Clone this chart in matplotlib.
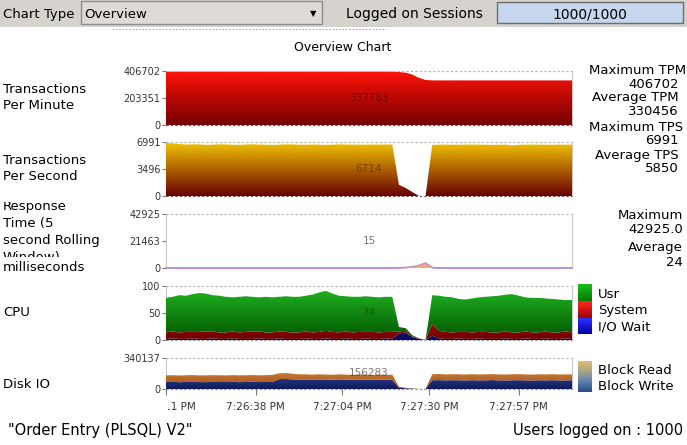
import numpy as np
import matplotlib
matplotlib.use("Agg")
import matplotlib.pyplot as plt
from matplotlib.colors import LinearSegmentedColormap
from matplotlib.patches import Rectangle
from matplotlib.path import Path
from matplotlib.transforms import Bbox
from matplotlib.lines import Line2D

# sample times, seconds after 7:26:11 PM (one sample every 2 s)
secs = list(range(0, 123, 2))

tpm = [401800, 401900, 402000, 401900, 401800, 401900, 402000, 402100, 402000, 401900,
       401800, 401900, 402000, 402000, 401900, 401800, 401900, 402000, 402100, 402000,
       401900, 401900, 402000, 402000, 401900, 401800, 401900, 402000, 402000, 401900,
       401900, 402000, 401900, 401800,
       401500, 399000, 394000, 380000, 355000, 339000,
       336200, 336000, 335900, 336100, 336000, 335900, 335800, 335900, 336000, 335900,
       335800, 335800, 335900, 335800, 335700, 335800, 335900, 335800, 335800, 335700,
       335800, 335783]

tps = [6880, 6800, 6720, 6660, 6700, 6680, 6620, 6650, 6700, 6680,
       6640, 6620, 6670, 6700, 6660, 6640, 6620, 6650, 6690, 6680,
       6650, 6630, 6670, 6650, 6620, 6650, 6690, 6670, 6650, 6660,
       6640, 6670, 6650, 6680,
       6650, 1450, 1050, 520, 0, 0,
       6620, 6640, 6660, 6650, 6630, 6670, 6650, 6660, 6640, 6620,
       6640, 6660, 6550, 6620, 6650, 6660, 6640, 6650, 6630, 6660,
       6640, 6650]

resp_ms = [20, 18, 22, 19, 17, 21, 20, 18, 19, 22, 20, 17, 19, 21, 20, 18, 22, 19, 20, 21,
           18, 19, 20, 22, 19, 18, 21, 20, 19, 20, 22, 18, 19, 21, 20,
           60, 350, 900, 1900, 3900, 250,
           30, 22, 20, 18, 21, 19, 20, 22, 18, 19, 21, 20, 19, 18, 20, 21, 19, 20, 18, 17, 15]

cpu_usr = [64, 64, 69, 67, 70, 72, 70, 67, 68, 66, 63, 66, 66, 64, 63, 66, 65, 64, 66, 66,
           66, 66, 70, 73, 74, 71, 68, 65, 66, 65, 66, 65, 65, 65, 65,
           8, 5, 2, 0, 0, 53,
           65, 65, 65, 61, 60, 63, 64, 65, 67, 68, 68, 71, 68, 63, 64, 64, 61, 62, 61, 58, 60]
cpu_sys = [12, 13, 12, 13, 12, 13, 14, 13, 12, 12, 13, 12, 13, 14, 13, 12, 12, 13, 13, 12,
           12, 13, 12, 13, 14, 13, 12, 13, 12, 13, 12, 13, 12, 12, 13,
           4, 3, 2, 1, 0, 22,
           14, 13, 12, 12, 13, 12, 12, 13, 12, 12, 13, 12, 12, 13, 12, 12, 13, 12, 12, 13, 12]
cpu_io = [2, 3, 2, 2, 3, 2, 2, 3, 2, 2, 3, 2, 2, 2, 3, 2, 2, 3, 2, 2,
          2, 3, 2, 2, 3, 2, 2, 3, 2, 2, 3, 2, 2, 3, 2,
          12, 14, 5, 2, 0, 8,
          3, 2, 2, 3, 2, 2, 3, 2, 2, 2, 3, 2, 2, 3, 2, 2, 3, 2, 2, 3, 2]

blk_write = [76000, 78000, 75000, 77000, 79000, 76000, 75000, 78000, 77000, 76000,
             78000, 75000, 77000, 79000, 76000, 77000, 78000,
             108000, 110000, 106000, 104000, 105000, 103000, 106000, 104000, 102000, 105000,
             103000, 101000, 104000, 102000, 100000, 103000, 101000,
             100000, 14000, 8000, 4000, 0, 0,
             96000, 98000, 95000, 97000, 96000, 94000, 97000, 95000, 96000, 98000, 95000,
             94000, 96000, 97000, 95000, 94000, 96000, 95000, 97000, 94000, 95000, 96000]
blk_read = [74000, 74000, 73000, 74000, 74000, 73000, 75000, 74000, 74000, 73000,
            74000, 75000, 74000, 74000, 74000, 75000, 77000,
            64000, 65000, 62000, 58000, 56000, 55000, 56000, 55000, 54000, 56000,
            55000, 54000, 56000, 55000, 54000, 56000, 55000,
            56283, 10000, 5000, 2000, 0, 0,
            66000, 67000, 65000, 66000, 65000, 65000, 66000, 65000, 65000, 66000, 65000,
            65000, 66000, 66000, 65000, 64000, 65000, 65000, 66000, 65000, 65000, 65000]

time_ticks = [0, 27, 53, 79, 106]
time_labels = ["7:26:11 PM", "7:26:38 PM", "7:27:04 PM", "7:27:30 PM", "7:27:57 PM"]
current = ["337783", "6714", "15", "74", "156283"]

W, H = 687, 445
fig = plt.figure(figsize=(W / 100, H / 100), dpi=100)
fig.patch.set_facecolor("white")


def ftext(x, y, s, **kw):
    kw.setdefault("fontsize", 9.5)
    kw.setdefault("va", "baseline")
    return fig.text(x / W, 1 - y / H, s, **kw)


def frect(x0, y0, x1, y1, **kw):
    fig.patches.append(Rectangle((x0 / W, 1 - y1 / H), (x1 - x0) / W, (y1 - y0) / H,
                                 transform=fig.transFigure, **kw))


def gradient(ax, coll, c_bot, c_top, ymax):
    coll.set_facecolor("none")
    coll.set_edgecolor("none")
    path = Path.make_compound_path(*coll.get_paths())
    cmap = LinearSegmentedColormap.from_list("g", [c_bot, c_top])
    im = ax.imshow(np.linspace(0, 1, 256).reshape(-1, 1), cmap=cmap, origin="lower",
                   aspect="auto", extent=[secs[0], secs[-1], 0, ymax], zorder=3)
    im.set_clip_path(path, ax.transData)


def panel(top, bottom, ymax, ticks, labels):
    ax = fig.add_axes([166 / W, 1 - bottom / H, (572 - 166) / W, (bottom - top) / H])
    ax.set_yticks(ticks, labels)
    ax.tick_params(axis="y", length=3, width=0.8, color="#777777", labelsize=7,
                   labelcolor="#333333", pad=1)
    ax.set_xticks([])
    for s in ["top", "bottom"]:
        ax.spines[s].set_visible(False)
    for s in ["left", "right"]:
        ax.spines[s].set_color("#c8c8c8")
        ax.spines[s].set_linewidth(0.8)
    ax.axhline(ymax, color="#b4b4b4", lw=0.8, ls=(0, (2, 2)), clip_on=False, zorder=4)
    return ax


def finish(ax, ymax, label, color):
    ax.set_xlim(secs[0], secs[-1])
    ax.set_ylim(0, ymax)
    ax.text(0.5, 0.5, label, transform=ax.transAxes, ha="center", va="center",
            fontsize=7.5, color=color, alpha=0.65, zorder=6)


# ---- toolbar
frect(0, 0, W, 27, facecolor="#d6d3ce", edgecolor="none")
frect(80.5, 0.5, 322, 24, facecolor="#dedbd6", edgecolor="#8e8e8e", lw=1)
frect(497, 2, 683, 23, facecolor="#c6d6ee", edgecolor="#6e6e6e", lw=1)
ftext(3, 18, "Chart Type")
ftext(84, 18, "Overview")
ftext(313, 16, "\u25bc", fontsize=6, ha="center")
ftext(346, 18, "Logged on Sessions", fontsize=10)
ftext(590, 18, "1000/1000", fontsize=10, ha="center")
fig.add_artist(Line2D([112 / W, 386 / W], [1 - 29 / H] * 2, color="#aaaaaa",
                      ls=(0, (1.5, 1.5)), lw=0.8))

ftext(343, 51, "Overview Chart", fontsize=9, ha="center")

# ---- TPM
ax = panel(71, 125, 406702, [0, 203351, 406702], ["0", "203351", "406702"])
coll = ax.fill_between(secs, 0, tpm)
gradient(ax, coll, "#740000", "#ff1208", 406702)
ax.axhline(0, color="#7a4040", lw=0.8, ls=(0, (2, 2)), clip_on=False, zorder=4)
finish(ax, 406702, current[0], "#5a0000")

# ---- TPS
ax = panel(142, 196, 6991, [0, 3496, 6991], ["0", "3496", "6991"])
coll = ax.fill_between(secs, 0, tps)
gradient(ax, coll, "#680000", "#f2c400", 6991)
ax.axhline(0, color="#7a4040", lw=0.8, ls=(0, (2, 2)), clip_on=False, zorder=4)
finish(ax, 6991, current[1], "#4a2a00")

# ---- response time
ax = panel(214, 268, 42925, [0, 21463, 42925], ["0", "21463", "42925"])
ax.plot(secs, resp_ms, color="#b47ad2", lw=1.2, zorder=4, clip_on=False)
ax.fill_between(secs, 0, resp_ms, facecolor="#f0a880", edgecolor="none", zorder=5)
finish(ax, 42925, current[2], "#333333")

# ---- CPU
ax = panel(286, 340, 100, [0, 50, 100], ["0", "50", "100"])
polys = ax.stackplot(secs, cpu_io, cpu_sys, cpu_usr)
gradient(ax, polys[0], "#08085a", "#3a3aff", 100)
gradient(ax, polys[1], "#6c0000", "#ff2400", 100)
gradient(ax, polys[2], "#005400", "#22b822", 100)
ax.axhline(0, color="#8888aa", lw=0.8, ls=(0, (2, 2)), clip_on=False, zorder=4)
finish(ax, 100, current[3], "#1a3a1a")

# ---- Disk IO
ax = panel(358, 389, 340137, [0, 340137], ["0", "340137"])
polys = ax.stackplot(secs, blk_write, blk_read)
gradient(ax, polys[0], "#101a5c", "#4868c8", 340137)
gradient(ax, polys[1], "#9a4a1c", "#f2a444", 340137)
ax.axhline(0, color="#8888aa", lw=0.8, ls=(0, (2, 2)), clip_on=False, zorder=4)
ax.set_xticks(time_ticks, time_labels)
ax.tick_params(axis="x", length=4, width=0.8, color="#777777", labelsize=7.5,
               labelcolor="#333333", pad=5)
finish(ax, 340137, current[4], "#333333")
lab = ax.xaxis.get_major_ticks()[0].label1
lab.set_clip_box(Bbox.from_extents(167.5, 0, W, H))
lab.set_clip_on(True)

# ---- left labels
ftext(3, 93, "Transactions")
ftext(3, 109, "Per Minute")
ftext(3, 164, "Transactions")
ftext(3, 180.5, "Per Second")
clip = Bbox.from_extents(0, H - 257, 165, H - 202)
for s, y in zip(["Response", "Time (5", "second Rolling", "Window)"], [210, 227, 244, 261]):
    t = ftext(3, y, s)
    t.set_clip_box(clip)
    t.set_clip_on(True)
ftext(3, 271, "milliseconds")
ftext(3, 316.5, "CPU")
ftext(3, 388.5, "Disk IO")

# ---- right statistics
ftext(589, 73.5, "Maximum TPM")
ftext(679, 87.5, "406702", ha="right")
ftext(679, 101.5, "Average TPM", ha="right")
ftext(679, 115, "330456", ha="right")
ftext(589, 131, "Maximum TPS")
ftext(679, 144.5, "6991", ha="right")
ftext(679, 158.5, "Average TPS", ha="right")
ftext(679, 172.5, "5850", ha="right")
ftext(683, 218.5, "Maximum", ha="right")
ftext(683, 232.5, "42925.0", ha="right")
ftext(683, 251.5, "Average", ha="right")
ftext(683, 266.5, "24", ha="right")


# ---- legends
def grad_box(x0, y0, x1, y1, colors):
    bax = fig.add_axes([x0 / W, 1 - y1 / H, (x1 - x0) / W, (y1 - y0) / H])
    cmap = LinearSegmentedColormap.from_list("b", colors)
    bax.imshow(np.linspace(0, 1, 64).reshape(-1, 1), cmap=cmap, origin="lower",
               aspect="auto", extent=[0, 1, 0, 1])
    bax.axis("off")


grad_box(578, 284, 592, 301, ["#007a00", "#18c018"])
grad_box(578, 301, 592, 318, ["#a00000", "#ff2a20"])
grad_box(578, 318, 592, 334, ["#0000a0", "#3030ff"])
grad_box(578, 361, 592, 392, ["#2a4c88", "#5a80b0", "#a8a48a", "#dcc068"])
ftext(598, 298, "Usr")
ftext(598, 314, "System")
ftext(598, 331, "I/O Wait")
ftext(598, 374, "Block Read")
ftext(598, 390, "Block Write")

# ---- footer
ftext(8, 435, '"Order Entry (PLSQL) V2"', fontsize=10.5)
ftext(683, 435, "Users logged on : 1000", fontsize=10.5, ha="right")

fig.savefig("out.png", dpi=100)
